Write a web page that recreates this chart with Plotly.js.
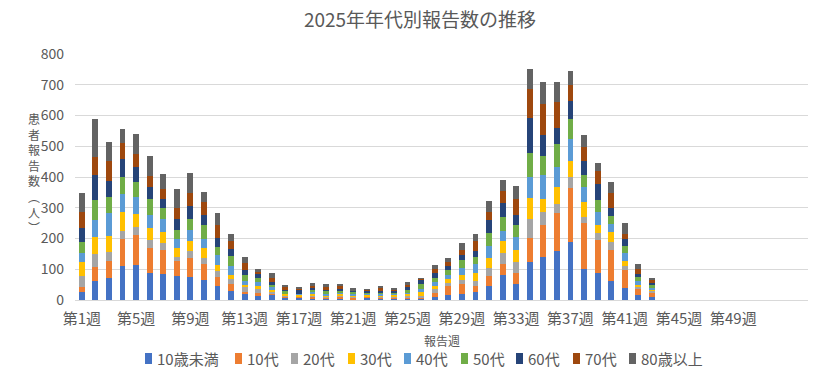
<!DOCTYPE html>
<html>
<head>
<meta charset="utf-8">
<script src="https://cdn.plot.ly/plotly-3.0.1.min.js"></script>
<style>
html,body{margin:0;padding:0;background:#ffffff;}
#chart{width:840px;height:379px;}
</style>
</head>
<body>
<div id="chart"></div>
<script>
// ---- categories (report weeks) ----
const weeks = ["第1週","第2週","第3週","第4週","第5週","第6週","第7週","第8週","第9週","第10週",
"第11週","第12週","第13週","第14週","第15週","第16週","第17週","第18週","第19週","第20週",
"第21週","第22週","第23週","第24週","第25週","第26週","第27週","第28週","第29週","第30週",
"第31週","第32週","第33週","第34週","第35週","第36週","第37週","第38週","第39週","第40週",
"第41週","第42週","第43週","第44週","第45週","第46週","第47週","第48週","第49週","第50週",
"第51週","第52週","第53週","第54週"];
const tickLabels = ["第1週","第5週","第9週","第13週","第17週","第21週","第25週","第29週","第33週","第37週","第41週","第45週","第49週"];

// ---- series values (weeks 1..43) ----
const under10 = [26,61,72,111,113,87,84,77,74,65, 46,28,20,13,15,8,8,3,2,4, 1,8,3,3,3,3,9,15,20,26, 46,80,52,124,139,159,189,100,87,61, 39,15,9];
const age10s  = [15,46,54,87,98,83,79,49,63,52, 28,24,7,9,4,3,1,8,4,6, 7,1,4,4,5,5,13,30,33,20, 33,37,35,78,104,124,176,150,109,102, 59,20,13];
const age20s  = [37,43,30,26,26,26,22,13,22,20, 20,15,15,13,7,3,2,3,3,4, 2,2,4,3,5,5,13,9,13,15, 26,35,37,61,43,30,35,20,22,26, 13,7,7];
const age30s  = [46,54,52,63,43,39,37,30,33,33, 20,15,7,11,7,4,5,6,5,4, 3,5,3,6,5,14,9,13,15,26, 33,39,39,70,41,54,52,50,26,33, 15,7,4];
const age40s  = [28,57,74,59,54,41,41,28,37,28, 33,28,13,13,10,3,3,5,5,6, 5,5,4,4,6,10,15,13,24,30, 39,33,41,67,78,65,72,48,43,26, 26,13,7];
const age50s  = [37,64,52,54,50,52,36,30,35,46, 26,33,20,11,7,7,2,6,11,5, 8,3,5,4,8,16,13,17,26,22, 41,46,39,78,63,76,65,37,39,26, 24,13,9];
const age60s  = [46,82,52,57,48,39,29,35,43,33, 30,22,17,13,7,6,11,9,4,7, 2,5,6,5,10,13,15,15,15,20, 43,46,33,115,67,52,59,48,52,26, 22,11,7];
const age70s  = [51,59,65,52,43,36,33,37,41,43, 41,26,20,9,15,7,5,6,8,8, 2,4,9,4,6,3,13,13,17,33, 26,37,52,93,102,85,50,43,41,48, 17,15,9];
const over80  = [62,124,62,48,64,65,49,61,65,32, 39,24,22,9,15,7,5,8,9,7, 8,3,7,5,10,2,13,13,23,24, 35,38,42,65,71,64,48,39,26,37, 35,17,5];

const seriesNames = ["10歳未満","10代","20代","30代","40代","50代","60代","70代","80歳以上"];
const seriesValues = [under10, age10s, age20s, age30s, age40s, age50s, age60s, age70s, over80];

// ---- styles ----
const colors = ["#4472C4","#ED7D31","#A5A5A5","#FFC000","#5B9BD5","#70AD47","#264478","#9E480E","#636363"];
const FONT = '"Noto Sans CJK JP", "Noto Sans", sans-serif';
const TEXT = '#595959';

const traces = seriesValues.map((vals, i) => ({
  type: 'bar',
  name: seriesNames[i],
  x: weeks.slice(0, vals.length),
  y: vals,
  marker: {color: colors[i], line: {width: 0}},
  hovertemplate: '%{x} ' + seriesNames[i] + ': %{y}<extra></extra>'
}));

// plot area geometry (px) used to place the custom legend / titles
const W = 840, H = 379, ML = 75, MR = 32, MT = 54, MB = 79;
const PW = W - ML - MR, PH = H - MT - MB;
const px2x = p => (p - ML) / PW;
const px2y = p => (H - MB - p) / PH;

const legendLeft = [145, 235, 291, 348, 404, 461, 516, 573, 629];
const shapes = [];
const annotations = [];
seriesNames.forEach((n, i) => {
  shapes.push({type:'rect', xref:'paper', yref:'paper',
    x0: px2x(legendLeft[i]), x1: px2x(legendLeft[i] + 7),
    y0: px2y(364), y1: px2y(353),
    fillcolor: colors[i], line: {width: 0}});
  annotations.push({xref:'paper', yref:'paper', x: px2x(legendLeft[i] + 10), y: px2y(358.5),
    xanchor:'left', yanchor:'middle', showarrow:false, text: n,
    font:{family: FONT, size: 15, color: TEXT}});
});
annotations.push({xref:'paper', yref:'paper', x: 0.5, y: px2y(340.5), xanchor:'center', yanchor:'middle',
  showarrow:false, text:'報告週', font:{family: FONT, size: 12, color: TEXT}});
annotations.push({xref:'paper', yref:'paper', x: px2x(34), y: px2y(173), xanchor:'center', yanchor:'middle',
  showarrow:false, text:'患<br>者<br>報<br>告<br>数<br>︵<br>人<br>︶', font:{family: FONT, size: 12, color: TEXT}});

const layout = {
  width: W, height: H,
  margin: {l: ML, r: MR, t: MT, b: MB, pad: 0},
  paper_bgcolor: '#ffffff', plot_bgcolor: '#ffffff',
  font: {family: FONT, color: TEXT},
  title: {text: '2025年年代別報告数の推移', font: {family: FONT, size: 19, color: TEXT},
          x: 0.5, xref: 'container', xanchor: 'center', y: 1 - 20 / H, yref: 'container', yanchor: 'middle'},
  barmode: 'stack',
  bargap: 0.57,
  showlegend: false,
  xaxis: {type: 'category', categoryorder: 'array', categoryarray: weeks, range: [-0.5, 53.5],
          tickvals: tickLabels, ticktext: tickLabels, tickangle: 0,
          tickfont: {family: FONT, size: 15, color: TEXT}, ticks: '', showgrid: false,
          zeroline: false, showline: false, ticklabelstandoff: 8, fixedrange: true},
  yaxis: {range: [0, 800], tick0: 0, dtick: 100, tickfont: {family: FONT, size: 14, color: TEXT},
          gridcolor: '#d9d9d9', gridwidth: 1, zeroline: true, zerolinecolor: '#d9d9d9', zerolinewidth: 1,
          ticks: '', showline: false, ticklabelstandoff: 10, fixedrange: true},
  shapes: shapes,
  annotations: annotations
};

Plotly.newPlot('chart', traces, layout, {displayModeBar: false, staticPlot: true});
</script>
</body>
</html>
